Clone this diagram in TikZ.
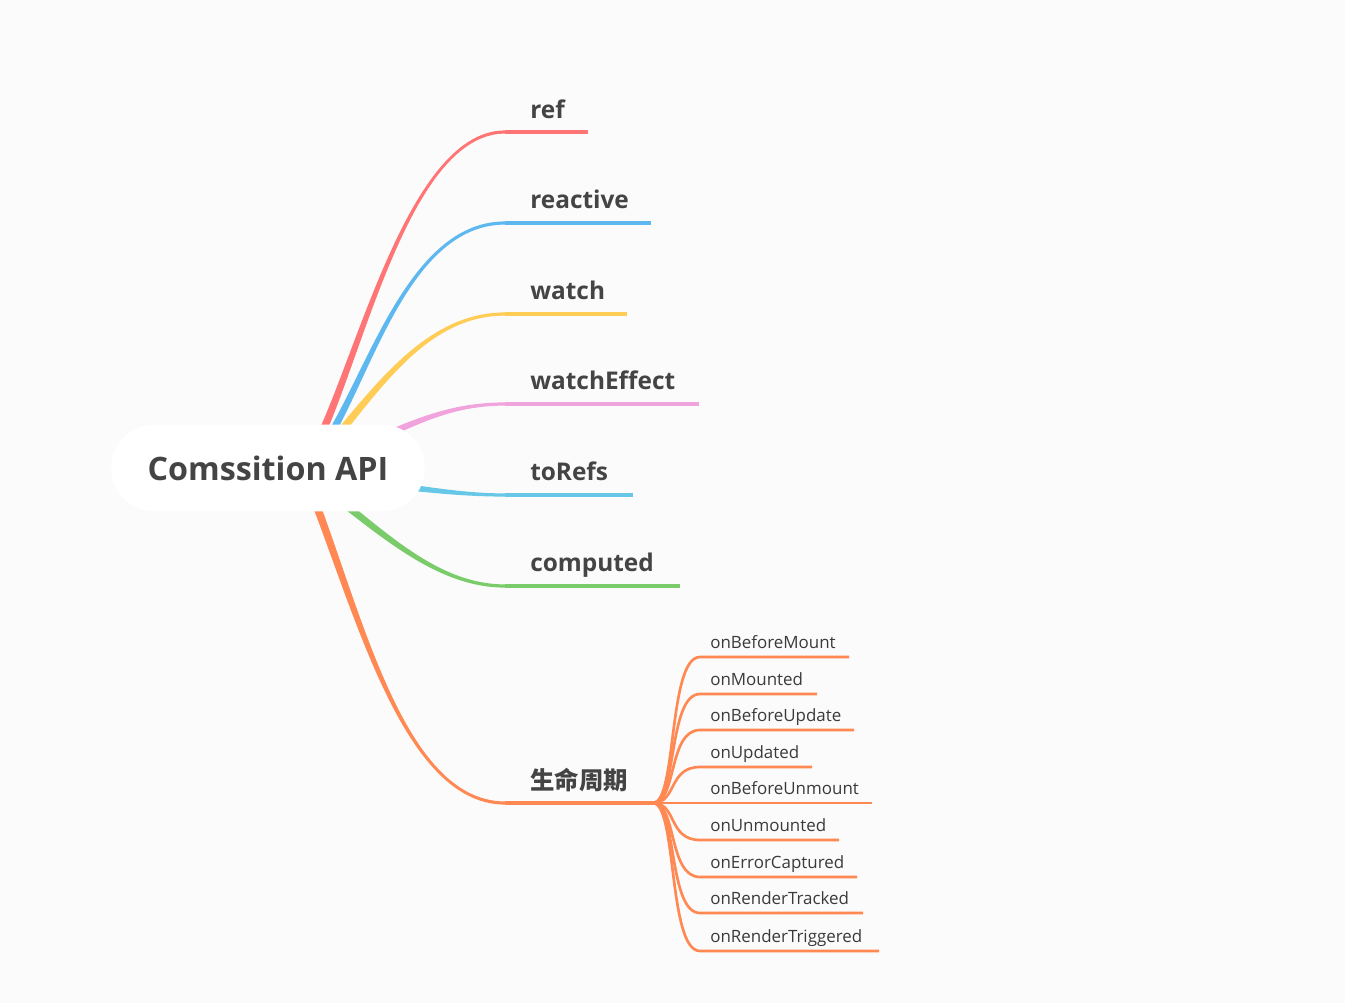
\documentclass[tikz,border=0pt]{standalone}
\usepackage{fontspec}
\setmainfont{Open Sans}
\newfontfamily\cjkfont{Noto Sans CJK SC}
\usetikzlibrary{calc}
\definecolor{bgc}{HTML}{FBFBFB}
\definecolor{txt}{HTML}{444444}
\definecolor{subtxt}{HTML}{3A3A3A}
\definecolor{cref}{HTML}{FF7575}
\definecolor{creactive}{HTML}{5DB8F0}
\definecolor{cwatch}{HTML}{FFCC55}
\definecolor{ceffect}{HTML}{F0A3DD}
\definecolor{ctorefs}{HTML}{66C8E6}
\definecolor{ccomputed}{HTML}{7ACB6A}
\definecolor{clife}{HTML}{FF8853}
\newcommand\taperbranch[7]{%
  \fill[#7] ($(#1)!#5!90:(#2)$) .. controls ($(#2)!#5!-90:(#1)$) and ($(#3)!#6!90:(#4)$) .. ($(#4)!#6!-90:(#3)$)
    -- ($(#4)!#6!90:(#3)$) .. controls ($(#3)!#6!-90:(#4)$) and ($(#2)!#5!90:(#1)$) .. ($(#1)!#5!-90:(#2)$) -- cycle;}
\tikzset{
  mainlabel/.style={font=\bfseries\fontsize{18.3}{20}\selectfont, text=txt, inner sep=0pt, anchor=base west},
  sublabel/.style={font=\fontsize{12.7}{14}\selectfont, text=subtxt, inner sep=0pt, anchor=base west},
  rootbox/.style={fill=white, rounded corners=32pt, minimum width=235pt, minimum height=65pt,
    font=\bfseries\fontsize{24.2}{28}\selectfont, text=txt, inner sep=0pt},
  hline/.style={line width=2.4pt},
  subline/.style={line width=2pt, draw=clife},
}
\begin{document}
\begin{tikzpicture}[x=0.75pt,y=-0.75pt]
\fill[bgc] (0,0) rectangle (1345,1003);
\useasboundingbox (0,0) rectangle (1345,1003);

% branch geometry (pixel coordinates)
\coordinate (ref-s) at (303,468); \coordinate (ref-c1) at (352,400); \coordinate (ref-c2) at (400,132); \coordinate (ref-e) at (505,132); \coordinate (ref-x) at (588,132);
\coordinate (rea-s) at (305,468); \coordinate (rea-c1) at (360,420); \coordinate (rea-c2) at (395,223); \coordinate (rea-e) at (505,223); \coordinate (rea-x) at (651,223);
\coordinate (wat-s) at (310,468); \coordinate (wat-c1) at (370,400); \coordinate (wat-c2) at (420,314); \coordinate (wat-e) at (505,314); \coordinate (wat-x) at (627,314);
\coordinate (eff-s) at (320,465); \coordinate (eff-c1) at (400,430); \coordinate (eff-c2) at (440,404); \coordinate (eff-e) at (505,404); \coordinate (eff-x) at (699,404);
\coordinate (tor-s) at (330,478); \coordinate (tor-c1) at (400,485); \coordinate (tor-c2) at (450,495); \coordinate (tor-e) at (505,495); \coordinate (tor-x) at (633,495);
\coordinate (com-s) at (300,470); \coordinate (com-c1) at (372,522); \coordinate (com-c2) at (430,586); \coordinate (com-e) at (505,586); \coordinate (com-x) at (680,586);
\coordinate (lif-s) at (298,460); \coordinate (lif-c1) at (352,580); \coordinate (lif-c2) at (395,803); \coordinate (lif-e) at (505,803); \coordinate (junction) at (653,803);

\taperbranch{ref-s}{ref-c1}{ref-c2}{ref-e}{3pt}{1.2pt}{cref}
\draw[hline, cref] (ref-e) -- (ref-x);
\taperbranch{rea-s}{rea-c1}{rea-c2}{rea-e}{3pt}{1.2pt}{creactive}
\draw[hline, creactive] (rea-e) -- (rea-x);
\taperbranch{wat-s}{wat-c1}{wat-c2}{wat-e}{3pt}{1.2pt}{cwatch}
\draw[hline, cwatch] (wat-e) -- (wat-x);
\taperbranch{eff-s}{eff-c1}{eff-c2}{eff-e}{3pt}{1.2pt}{ceffect}
\draw[hline, ceffect] (eff-e) -- (eff-x);
\taperbranch{tor-s}{tor-c1}{tor-c2}{tor-e}{3pt}{1.2pt}{ctorefs}
\draw[hline, ctorefs] (tor-e) -- (tor-x);
\taperbranch{com-s}{com-c1}{com-c2}{com-e}{3pt}{1.2pt}{ccomputed}
\draw[hline, ccomputed] (com-e) -- (com-x);
\taperbranch{lif-s}{lif-c1}{lif-c2}{lif-e}{3pt}{1.2pt}{clife}
\draw[hline, clife] (lif-e) -- (junction);

\node[rootbox] (root) at (268,468) {Comssition API};

\node[mainlabel] (ref) at (530,118) {ref};
\node[mainlabel] (reactive) at (530,208) {reactive};
\node[mainlabel] (watch) at (530,299) {watch};
\node[mainlabel] (watchEffect) at (530,389) {watchEffect};
\node[mainlabel] (toRefs) at (530,480) {toRefs};
\node[mainlabel] (computed) at (530,571) {computed};
\node[mainlabel] (life) at (530,789) {\cjkfont\bfseries 生命周期};

\foreach \yy/\xe/\lab/\nm in {657/849/onBeforeMount/bm, 694/817/onMounted/mo, 730/854/onBeforeUpdate/bu, 767/812/onUpdated/up, 803/872/onBeforeUnmount/bum, 840/839/onUnmounted/um, 877/857/onErrorCaptured/ec, 913/863/onRenderTracked/rtk, 951/879/onRenderTriggered/rtg}{
  \node[sublabel] (\nm) at (710,{\yy-8.5}) {\lab};
  \coordinate (\nm-s) at (700,\yy);
  \coordinate (\nm-e) at (\xe,\yy);
  \draw[subline] (junction) .. controls (677,803) and (668,\yy) .. (\nm-s) -- (\nm-e);
}
\end{tikzpicture}
\end{document}
